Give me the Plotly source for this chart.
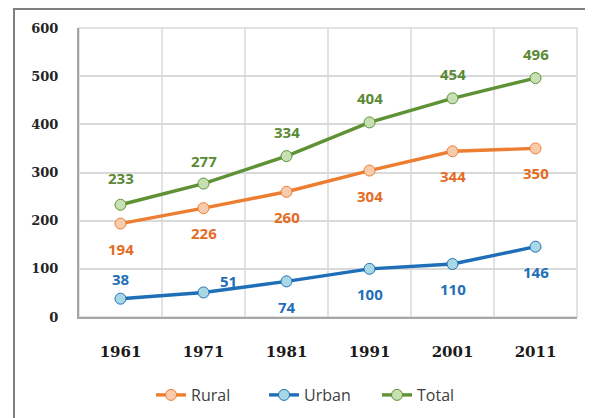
import plotly.graph_objects as go

years = ["1961", "1971", "1981", "1991", "2001", "2011"]
rural = [194, 226, 260, 304, 344, 350]
urban = [38, 51, 74, 100, 110, 146]
total = [233, 277, 334, 404, 454, 496]
y_ticks = [0, 100, 200, 300, 400, 500, 600]

series = [
    ("Rural", rural, "#ED7D31", "#F8CBAD", "#E46C25"),
    ("Urban", urban, "#1F6FB8", "#A8D8E6", "#1F6FB8"),
    ("Total", total, "#5E9234", "#C6E0B4", "#5A8A36"),
]

# label offsets (px) per series/point: (dx, dy) with dy positive upward
offsets = {
    "Rural": [(0, -25)] * 6,
    "Urban": [(0, 20), (25, 11), (0, -26), (0, -25), (0, -25), (0, -25)],
    "Total": [(0, 27), (0, 23), (0, 24), (0, 24), (0, 24), (0, 24)],
}

fig = go.Figure()
annotations = []
for name, vals, lc, fc, tc in series:
    fig.add_trace(go.Scatter(
        x=years, y=vals, name=name, mode="lines+markers",
        line=dict(color=lc, width=3.4),
        marker=dict(symbol="circle", size=11, color=fc, line=dict(color=lc, width=1)),
    ))
    for i, yv in enumerate(vals):
        dx, dy = offsets[name][i]
        annotations.append(dict(
            x=i, y=yv, xref="x", yref="y", text=str(yv), showarrow=False,
            xshift=dx, yshift=dy,
            font=dict(family="Open Sans, DejaVu Sans, sans-serif", size=15, color=tc, weight="bold"),
        ))

L, R, T, B = 71, 24, 20, 109
PW, PH = 593 - L - R, 418 - T - B

fig.update_layout(
    width=593, height=418,
    margin=dict(l=L, r=R, t=T, b=B, autoexpand=False),
    paper_bgcolor="white", plot_bgcolor="white",
    annotations=annotations,
    showlegend=True,
    legend=dict(orientation="h", x=0.485, xanchor="center", y=-78 / PH, yanchor="middle",
                font=dict(family="Open Sans, DejaVu Sans, sans-serif", size=16, color="#404040"),
                entrywidth=68, traceorder="normal"),
    shapes=[
        dict(type="rect", xref="paper", yref="paper",
             x0=-65 / PW, x1=1.2, y0=-2, y1=1 + (T - 1) / PH,
             line=dict(color="#7f7f7f", width=2), layer="below"),
        dict(type="rect", xref="paper", yref="paper", x0=0, x1=1, y0=0, y1=1,
             line=dict(color="#d9d9d9", width=1.5), layer="below"),
    ],
)
fig.update_xaxes(
    type="category", range=[-0.5, 5.5], showgrid=False, showline=True, linecolor="#a6a6a6", linewidth=2,
    ticks="", tickfont=dict(family="DejaVu Serif, serif", size=15, color="#1a1a1a", weight=600),
    ticklabelstandoff=20,
)
for k in range(1, 6):
    fig.add_shape(type="line", xref="x", yref="paper", x0=k - 0.5, x1=k - 0.5, y0=0, y1=1,
                  line=dict(color="#d9d9d9", width=1.5), layer="below")
fig.update_yaxes(
    range=[0, 600], tickvals=y_ticks, showgrid=True, gridcolor="#d9d9d9", gridwidth=1.5,
    showline=True, linecolor="#a6a6a6", linewidth=2, zeroline=False,
    tickfont=dict(family="DejaVu Serif, serif", size=13, color="#262626", weight="bold"),
    ticklabelstandoff=16,
)
fig.write_html("out.html")
